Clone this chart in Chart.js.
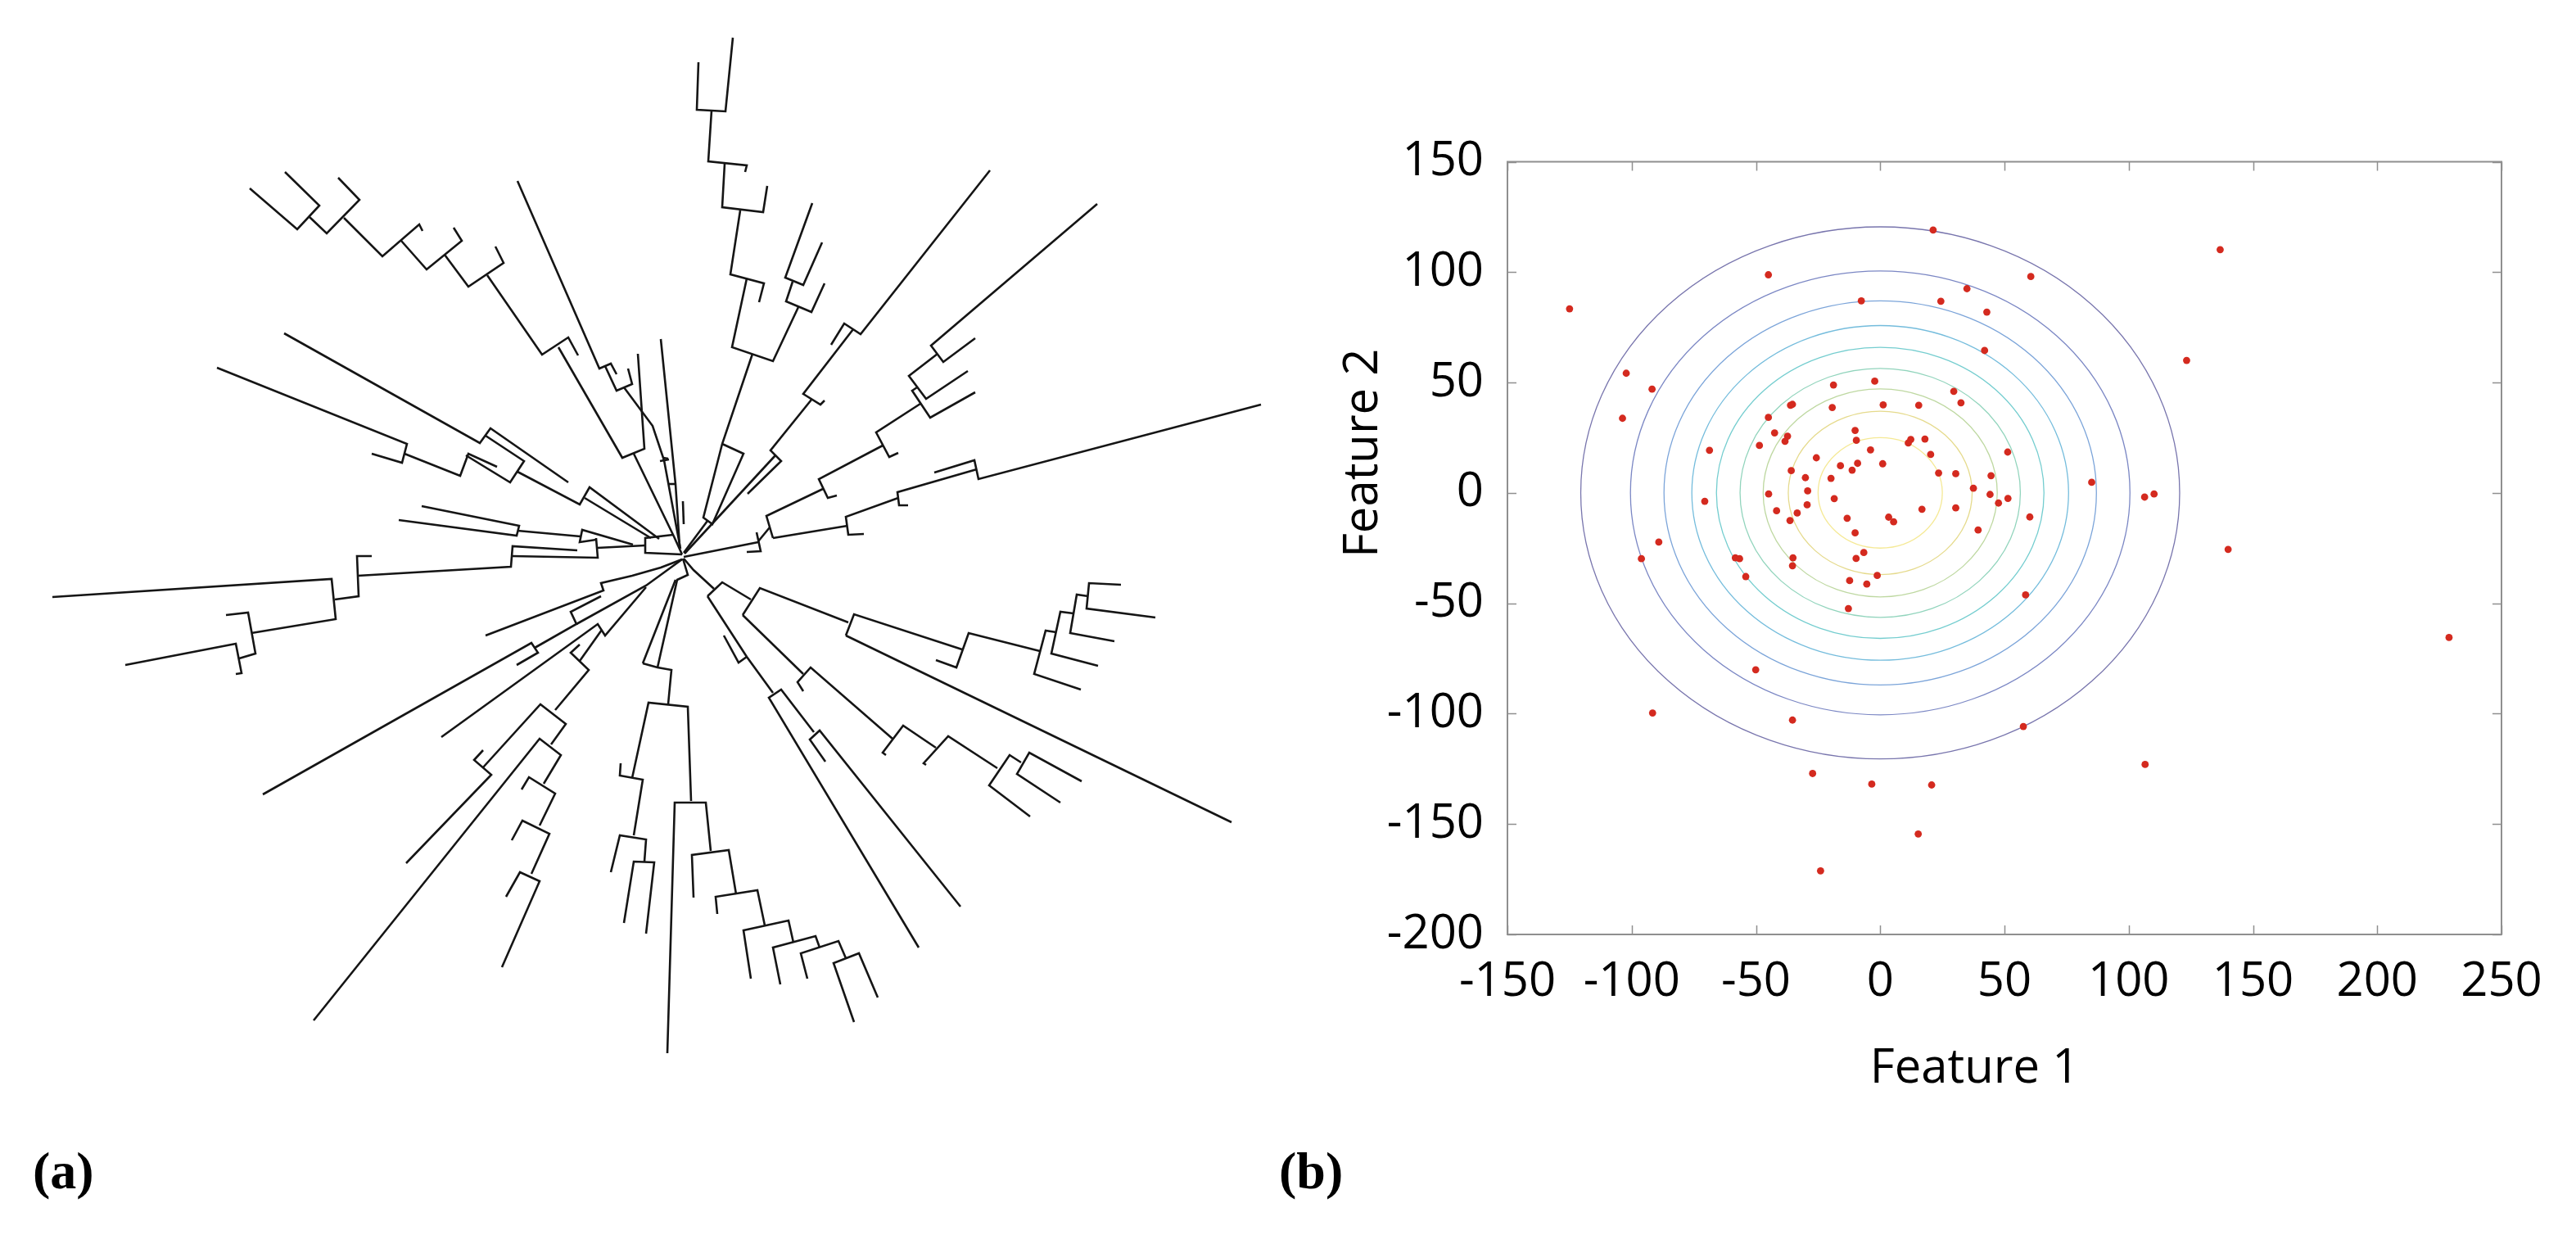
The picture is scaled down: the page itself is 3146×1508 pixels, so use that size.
<!DOCTYPE html>
<html>
<head>
<meta charset="utf-8">
<script src="https://cdn.jsdelivr.net/npm/chart.js@4.4.0/dist/chart.umd.min.js"></script>
<style>
  html, body { margin: 0; padding: 0; background: #fff; }
  body { width: 3146px; height: 1508px; position: relative; overflow: hidden; }
  #tree { position: absolute; left: 0; top: 0; }
  #scatter { position: absolute; left: 1560px; top: 120px; }
  .panel { position: absolute; font-family: "Liberation Serif", serif; font-weight: bold; font-size: 64px; line-height: 64px; }
</style>
</head>
<body>
<canvas id="tree" width="1580" height="1330"></canvas>
<canvas id="scatter" width="1586" height="1280"></canvas>
<div class="panel" style="left:40px;top:1398px">(a)</div>
<div class="panel" style="left:1562px;top:1398px">(b)</div>
<script>
// ---- panel (b) data ----
const xTicks = [-150, -100, -50, 0, 50, 100, 150, 200, 250];
const yTicks = [150, 100, 50, 0, -50, -100, -150, -200];
const xTitle = 'Feature 1';
const yTitle = 'Feature 2';

const featureX = [
  -125.0, -45.0, 21.3, -7.6, 24.4, -102.2, -91.8, -103.7, -18.8, -2.2,
  29.6, 32.5, -35.3, -36.1, -19.3, 1.2, 15.5, -45.0, -42.5, -37.3,
  -38.3, -48.6, -68.7, -10.1, -9.6, -3.9, 12.3, 11.3, 18.0, 20.3,
  -25.7, -16.0, -9.1, -11.3, 1.0, -35.8, 23.5, 30.4, -30.1, -19.8,
  -29.2, -44.9, -18.5, -70.6, -29.4, -41.7, -33.4, -36.3, 16.8, 30.4,
  -13.3, 3.4, 5.4, -10.1, -89.1, -6.6, -96.1, -58.3, -56.6, -35.1,
  -35.3, -9.7, -54.1, -1.2, -12.3,
  -5.4, -12.8, -50.1, -91.6, -35.3, -27.2, -3.4, 20.7, 15.3, -24.0,
  136.8, 60.6, 34.9, 42.9, 42.0, 123.3, 51.3, 44.6, 37.5, 85.1,
  44.2, 51.4, 47.6, 106.4, 110.2, 60.2, 39.4, 140.0,
  58.5, 228.9, 57.6, 106.6
];
const featureY = [
  83.4, 98.8, 119.1, 87.0, 86.8, 54.2, 47.0, 33.8, 48.9, 50.6,
  46.0, 40.8, 40.1, 39.7, 38.7, 39.9, 39.7, 34.2, 27.2, 25.7,
  23.4, 21.5, 19.3, 28.3, 23.8, 19.5, 24.2, 22.6, 24.4, 17.4,
  15.9, 12.3, 13.4, 10.3, 13.2, 10.1, 9.0, 8.7, 6.9, 6.6,
  0.9, -0.5, -2.6, -3.8, -5.4, -8.1, -9.1, -12.5, -7.4, -6.8,
  -11.5, -11.0, -13.1, -18.1, -22.3, -27.0, -29.8, -29.4, -29.8, -29.4,
  -33.0, -29.7, -37.9, -37.4, -39.7,
  -41.3, -52.4, -80.1, -99.7, -102.9, -127.1, -131.9, -132.3, -154.5, -171.2,
  110.2, 98.0, 92.5, 81.9, 64.5, 60.0, 18.5, 7.8, 2.1, 4.8,
  -0.7, -2.5, -4.6, -1.9, -0.5, -10.9, -16.8, -25.6,
  -46.2, -65.5, -105.8, -123.0
];

// density contours: centre and radius of each level (outer to inner)
const contourCenter = [0, 0];
const contourRadii = [120.5, 100.5, 87, 75.8, 65.9, 56.4, 47.1, 37, 25];
const contourColors = ['#4b4792', '#4f5fb0', '#4f86cc', '#45a6d0', '#45bcbf', '#6cc6a6', '#a8cb82', '#dccd66', '#f1e272'];

// ---- panel (a) data: tree branches as polylines ----
const treeBranches = [
  // upper-left clade
  [[305,230],[363,280],[390,251],[348,210]],
  [[378,265],[399,285],[439,244],[413,217]],
  [[420,266],[467,313],[512,274],[516,282]],
  [[490,294],[521,329],[564,294],[554,278]],
  [[543,311],[572,350],[615,321],[605,301]],
  [[595,336],[662,433],[694,412],[706,434]],
  [[682,424],[760,559],[787,548],[779,432]],
  [[774,554],[823,655],[833,677]],
  // thin lines above the centre
  [[632,221],[732,450],[746,444],[753,457]],
  [[739,447],[753,477],[772,469],[767,450]],
  [[762,473],[797,520],[811,562],[831,670]],
  [[806,563],[817,561]],
  [[807,414],[825,591],[830,667]],
  [[817,591],[826,591]],
  [[810,559],[816,560]],
  [[834,612],[835,640]],
  // top clade
  [[895,46],[886,136],[851,134],[853,76]],
  [[869,135],[865,197],[912,202],[910,210]],
  [[885,200],[882,253],[932,259],[937,227]],
  [[904,257],[892,335],[933,346],[927,369]],
  [[912,340],[894,424],[944,441],[975,375]],
  [[1007,346],[991,381],[960,368],[968,344]],
  [[992,248],[959,339],[981,348],[1004,296]],
  [[919,432],[882,542],[859,632],[870,640],[908,554],[882,542]],
  [[864,636],[835,675]],
  // upper-right clade
  [[1209,208],[1051,408],[1031,395],[1015,421]],
  [[1042,402],[981,481],[1002,494],[1007,489]],
  [[991,488],[941,550],[954,563],[913,603]],
  [[947,556],[836,676]],
  // right clades
  [[1340,249],[1137,422],[1152,442],[1191,413]],
  [[1145,432],[1110,459],[1131,487],[1182,453]],
  [[1120,473],[1114,477],[1136,510],[1191,479]],
  [[1124,493],[1070,528],[1086,558],[1097,553]],
  [[1078,544],[1000,585],[1011,608],[1022,605]],
  [[1005,597],[936,630],[944,657]],
  [[1540,494],[1195,585],[1190,562],[1141,577]],
  [[1193,573],[1096,601],[1098,617],[1109,617]],
  [[1097,608],[1033,631],[1036,653],[1055,652]],
  [[1035,642],[944,657]],
  [[940,644],[926,661]],
  [[912,674],[929,673],[924,650]],
  [[926,662],[835,680]],
  // lower-right clades
  [[835,682],[847,696],[872,719]],
  [[864,728],[882,711],[917,732]],
  [[907,751],[928,718],[1036,760]],
  [[1033,776],[1043,750],[1175,793]],
  [[1033,776],[1504,1004]],
  [[1143,806],[1168,815],[1183,773],[1270,795]],
  [[1320,842],[1263,823],[1277,770],[1290,772]],
  [[1341,813],[1284,798],[1295,747],[1311,749]],
  [[1361,783],[1307,773],[1315,726],[1329,728]],
  [[1411,754],[1327,743],[1330,712],[1369,714]],
  [[907,751],[981,823]],
  [[981,844],[974,833],[990,815],[1090,902]],
  [[1082,922],[1078,919],[1103,886],[1143,913]],
  [[1131,934],[1128,932],[1158,899],[1218,938]],
  [[1258,997],[1208,959],[1233,922],[1247,931]],
  [[1295,980],[1242,945],[1257,919],[1321,954]],
  [[864,728],[912,802],[944,846]],
  [[884,776],[902,809],[912,802]],
  [[1122,1157],[939,852],[954,842],[994,894]],
  [[1008,930],[989,903],[1001,892],[1173,1107]],
  // bottom clade
  [[785,810],[825,708]],
  [[803,815],[827,708],[840,702],[834,682]],
  [[785,810],[803,815],[820,818],[816,860]],
  [[772,950],[792,858],[840,863],[844,978]],
  [[815,1286],[824,980],[862,980],[868,1039]],
  [[847,1096],[845,1044],[890,1038],[899,1092]],
  [[876,1116],[874,1095],[925,1087],[934,1130]],
  [[917,1195],[908,1136],[963,1124],[969,1151]],
  [[953,1202],[944,1157],[996,1143],[1001,1157]],
  [[986,1195],[978,1164],[1024,1149],[1033,1170]],
  [[1043,1248],[1018,1176],[1049,1164],[1072,1218]],
  [[758,932],[757,947],[785,952],[774,1020]],
  [[746,1065],[757,1020],[789,1025],[787,1052]],
  [[762,1127],[774,1052],[799,1053],[789,1140]],
  // left clades
  [[515,618],[634,642],[631,654],[487,635]],
  [[632,648],[709,655]],
  [[773,665],[711,647],[708,662],[728,659]],
  [[728,657],[730,681],[625,679]],
  [[705,672],[626,667],[624,692],[437,703]],
  [[454,679],[436,679],[438,728],[409,732]],
  [[64,729],[405,707],[410,756],[307,773]],
  [[276,751],[303,748],[312,798],[292,804]],
  [[153,812],[288,786],[295,822],[288,823]],
  [[729,669],[788,666]],
  [[822,653],[788,657],[788,675],[833,677]],
  [[265,449],[497,542],[491,565],[454,554]],
  [[494,554],[562,581],[572,554],[607,570]],
  [[569,556],[623,589],[640,563],[593,532]],
  [[694,589],[599,523],[586,541],[347,407]],
  [[632,576],[708,616],[720,595],[805,658]],
  [[714,608],[795,657]],
  // lower-left clades
  [[321,970],[649,785],[657,797],[631,812]],
  [[653,791],[704,762],[697,747],[734,728]],
  [[704,762],[789,715],[833,683]],
  [[593,776],[737,721],[734,712],[772,703],[807,693],[833,683]],
  [[539,900],[730,762],[739,776],[789,717]],
  [[708,787],[697,797],[719,818],[678,867]],
  [[708,807],[735,769]],
  [[590,937],[660,860],[691,884],[673,909]],
  [[590,916],[579,928],[600,946],[496,1054]],
  [[383,1246],[659,902],[685,922],[664,957]],
  [[637,964],[646,949],[678,969],[659,1008]],
  [[625,1026],[638,1002],[671,1018],[649,1067]],
  [[618,1095],[635,1065],[659,1076],[613,1181]]
];

// ---- panel (a): tree ----
const treeCanvas = document.getElementById('tree');
new Chart(treeCanvas, {
  type: 'scatter',
  data: {
    datasets: treeBranches.map(b => ({
      data: b.map(p => ({ x: p[0], y: p[1] })),
      showLine: true,
      borderColor: '#151515',
      borderWidth: 2.6,
      borderJoinStyle: 'miter',
      pointRadius: 0,
      tension: 0,
      clip: false
    }))
  },
  options: {
    responsive: false,
    animation: false,
    events: [],
    layout: { padding: 0 },
    plugins: { legend: { display: false }, tooltip: { enabled: false } },
    scales: {
      x: { type: 'linear', min: 0, max: treeCanvas.width, display: false },
      y: { type: 'linear', min: 0, max: treeCanvas.height, reverse: true, display: false }
    }
  }
});

// ---- panel (b): scatter with contours ----
const FONT = '"Open Sans", "Noto Sans", sans-serif';
const boxPlugin = {
  id: 'boxPlugin',
  beforeDatasetsDraw(chart) {
    const { ctx, chartArea: a, scales: { x, y } } = chart;
    ctx.save();
    ctx.beginPath();
    ctx.rect(a.left, a.top, a.right - a.left, a.bottom - a.top);
    ctx.clip();
    const cx = x.getPixelForValue(contourCenter[0]);
    const cy = y.getPixelForValue(contourCenter[1]);
    contourRadii.forEach((r, i) => {
      const rx = x.getPixelForValue(contourCenter[0] + r) - cx;
      const ry = cy - y.getPixelForValue(contourCenter[1] + r);
      ctx.beginPath();
      ctx.ellipse(cx, cy, rx, ry, 0, 0, Math.PI * 2);
      ctx.strokeStyle = contourColors[i];
      ctx.globalAlpha = 0.75;
      ctx.lineWidth = 1.3;
      ctx.stroke();
    });
    ctx.restore();
  },
  afterDraw(chart) {
    const { ctx, chartArea: a, scales: { x, y } } = chart;
    ctx.save();
    ctx.strokeStyle = '#8f8f8f';
    ctx.lineWidth = 2;
    ctx.strokeRect(a.left, a.top, a.right - a.left, a.bottom - a.top);
    const tl = 11;
    ctx.beginPath();
    xTicks.forEach(v => {
      const px = Math.round(x.getPixelForValue(v)) + 0.5;
      ctx.moveTo(px, a.bottom); ctx.lineTo(px, a.bottom - tl);
      ctx.moveTo(px, a.top); ctx.lineTo(px, a.top + tl);
    });
    yTicks.forEach(v => {
      const py = Math.round(y.getPixelForValue(v)) + 0.5;
      ctx.moveTo(a.left, py); ctx.lineTo(a.left + tl, py);
      ctx.moveTo(a.right, py); ctx.lineTo(a.right - tl, py);
    });
    ctx.lineWidth = 1.5;
    ctx.stroke();
    // axis titles
    ctx.fillStyle = '#000';
    ctx.font = '58px ' + FONT;
    ctx.textAlign = 'center';
    ctx.textBaseline = 'alphabetic';
    ctx.fillText(xTitle, x.getPixelForValue(38), a.bottom + 181);
    ctx.translate(a.left - 159, y.getPixelForValue(18));
    ctx.rotate(-Math.PI / 2);
    ctx.fillText(yTitle, 0, 0);
    ctx.restore();
  }
};

new Chart(document.getElementById('scatter'), {
  type: 'scatter',
  data: {
    datasets: [{
      data: featureX.map((v, i) => ({ x: v, y: featureY[i] })),
      backgroundColor: '#d42a1f',
      borderWidth: 0,
      pointRadius: 4.4
    }]
  },
  options: {
    responsive: false,
    animation: false,
    events: [],
    layout: { padding: { top: 77.5, right: 91, left: 0, bottom: 0 } },
    plugins: { legend: { display: false }, tooltip: { enabled: false } },
    scales: {
      x: {
        type: 'linear',
        min: xTicks[0], max: xTicks[xTicks.length - 1],
        afterBuildTicks: s => { s.ticks = xTicks.map(v => ({ value: v })); },
        afterFit: s => { s.height = 259; },
        grid: { display: false, drawTicks: false },
        border: { display: false },
        ticks: { padding: 24, color: '#000', font: { family: FONT, size: 58 }, maxRotation: 0, autoSkip: false }
      },
      y: {
        type: 'linear',
        min: yTicks[yTicks.length - 1], max: yTicks[0],
        afterBuildTicks: s => { s.ticks = yTicks.map(v => ({ value: v })); },
        afterFit: s => { s.width = 281; },
        grid: { display: false, drawTicks: false },
        border: { display: false },
        ticks: { padding: 29, color: '#000', font: { family: FONT, size: 58 }, autoSkip: false }
      }
    }
  },
  plugins: [boxPlugin]
});
</script>
</body>
</html>
